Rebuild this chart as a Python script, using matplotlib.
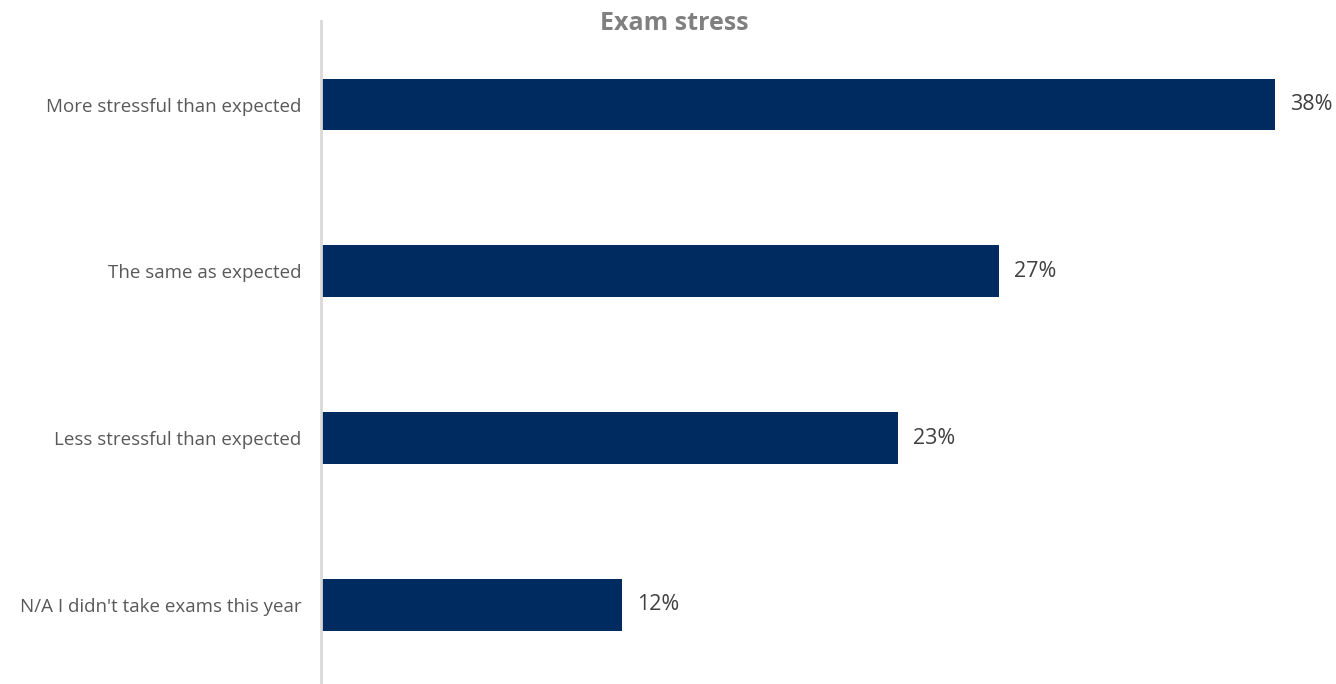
import matplotlib.pyplot as plt

categories = ["More stressful than expected", "The same as expected",
              "Less stressful than expected", "N/A I didn't take exams this year"]
values = [38, 27, 23, 12]

plt.rcParams['font.family'] = ['Open Sans', 'DejaVu Sans']

fig = plt.figure(figsize=(13.36, 6.84), dpi=100)
ax = fig.add_axes([321 / 1336, -0.006, (1325 - 321) / 1336, 0.975])

pos = range(len(categories))
bars = ax.barh(pos, values, height=0.31, color='#002B60', zorder=2)
ax.set_ylim(3.5, -0.5)
ax.set_xlim(0, 40)

for b, v in zip(bars, values):
    ax.text(b.get_width() + 0.6, b.get_y() + b.get_height() / 2, f"{v}%",
            va='center', ha='left', fontsize=15.5, color='#404040')

ax.set_yticks(list(pos))
ax.set_yticklabels(categories, fontsize=13.5, color='#595959')
ax.tick_params(axis='y', length=0, pad=14)
ax.set_xticks([])
for s in ['top', 'right', 'bottom']:
    ax.spines[s].set_visible(False)
ax.spines['left'].set_color('#D9D9D9')
ax.spines['left'].set_linewidth(2)

fig.text(674 / 1336, 1 - 24 / 684, "Exam stress", ha='center', va='center',
         fontsize=18, fontweight='bold', color='#808080')

fig.savefig('out.png', dpi=100)
